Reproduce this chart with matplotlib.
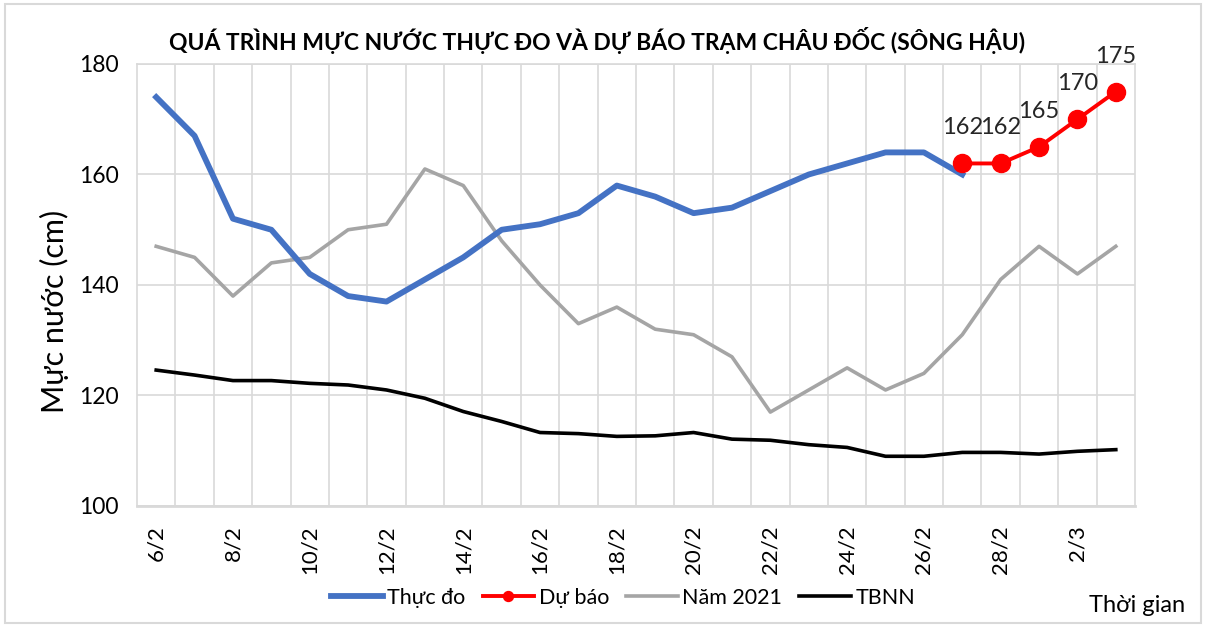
import numpy as np
import matplotlib

matplotlib.use("Agg")
import matplotlib.pyplot as plt
from matplotlib.patches import Rectangle

plt.rcParams["font.family"] = ["Lato", "Open Sans", "DejaVu Sans"]

dates = ["6/2", "7/2", "8/2", "9/2", "10/2", "11/2", "12/2", "13/2", "14/2",
         "15/2", "16/2", "17/2", "18/2", "19/2", "20/2", "21/2", "22/2",
         "23/2", "24/2", "25/2", "26/2", "27/2", "28/2", "1/3", "2/3", "3/3"]

thuc_do = [174, 167, 152, 150, 142, 138, 137, 141, 145, 150, 151, 153, 158,
           156, 153, 154, 157, 160, 162, 164, 164, 160]
du_bao = [162, 162, 165, 170, 175]
nam_2021 = [147, 145, 138, 144, 145, 150, 151, 161, 158, 148, 140, 133, 136,
            132, 131, 127, 117, 121, 125, 121, 124, 131, 141, 147, 142, 147]
tbnn = [124.6, 123.7, 122.7, 122.7, 122.2, 121.9, 121.0, 119.5, 117.1, 115.3,
        113.3, 113.1, 112.6, 112.7, 113.3, 112.1, 111.9, 111.1, 110.6, 109.0,
        109.0, 109.7, 109.7, 109.4, 109.9, 110.2]

x = np.arange(len(dates))
x_fc = x[len(thuc_do) - 1:]

fig = plt.figure(figsize=(12.07, 6.27), dpi=100)
ax = fig.add_axes([137 / 1207, 1 - 506 / 627, 998 / 1207, 442 / 627])

# outer chart border
fig.patches.append(Rectangle((5 / 1207, 4 / 627), 1196 / 1207, 619 / 627,
                             transform=fig.transFigure, fill=False,
                             edgecolor="#D9D9D9", linewidth=1.5))

ax.plot(x, nam_2021, color="#A5A5A5", linewidth=2.6, label="Năm 2021", zorder=3)
ax.plot(x, tbnn, color="#000000", linewidth=2.6, label="TBNN", zorder=3)
ax.plot(x[:len(thuc_do)], thuc_do, color="#4472C4", linewidth=4.2,
        label="Thực đo", zorder=4)
ax.plot(x_fc, du_bao, color="#FF0000", linewidth=2.8, marker="o",
        markersize=13, label="Dự báo", zorder=5)

for xi, v in zip(x_fc, du_bao):
    ax.annotate(str(v), xy=(xi, v), xytext=(0, 18), textcoords="offset points",
                ha="center", va="bottom", fontsize=17, color="#262626")

ax.set_xlim(-0.5, len(dates) - 0.5)
ax.set_ylim(100, 180)
ax.set_yticks(np.arange(100, 181, 20))
ax.set_xticks(x[::2])
ax.set_xticklabels(dates[::2], rotation=90, fontsize=16)
ax.set_xticks(np.arange(0.5, len(dates) - 1, 1), minor=True)
ax.tick_params(axis="both", which="both", length=0)
ax.tick_params(axis="y", labelsize=16.5, pad=13)
ax.tick_params(axis="x", pad=14)

ax.grid(axis="y", color="#D9D9D9", linewidth=1.2)
ax.grid(axis="x", which="minor", color="#D9D9D9", linewidth=1.2)
ax.set_axisbelow(True)
for s in ax.spines.values():
    s.set_color("#D9D9D9")
    s.set_linewidth(1.2)
ax.spines["bottom"].set_linewidth(2)

ax.set_ylabel("Mực nước (cm)", fontsize=22)
ax.yaxis.set_label_coords(-0.068, 0.44)

fig.text(597 / 1207, 1 - 40 / 627,
         "QUÁ TRÌNH MỰC NƯỚC THỰC ĐO VÀ DỰ BÁO TRẠM CHÂU ĐỐC (SÔNG HẬU)",
         ha="center", va="center", fontsize=16.5, fontweight="bold")

handles, labels = ax.get_legend_handles_labels()
order = [2, 3, 0, 1]
fig.legend([handles[i] for i in order], [labels[i] for i in order],
           loc="center", bbox_to_anchor=(623 / 1207, 1 - 598 / 627), ncol=4,
           frameon=False, fontsize=15.5, handlelength=2.4, handletextpad=0.2,
           columnspacing=0.8, markerscale=0.55)

fig.text(1185 / 1207, 1 - 606 / 627, "Thời gian", ha="right", va="center",
         fontsize=17)

fig.savefig("out.png", dpi=100)
